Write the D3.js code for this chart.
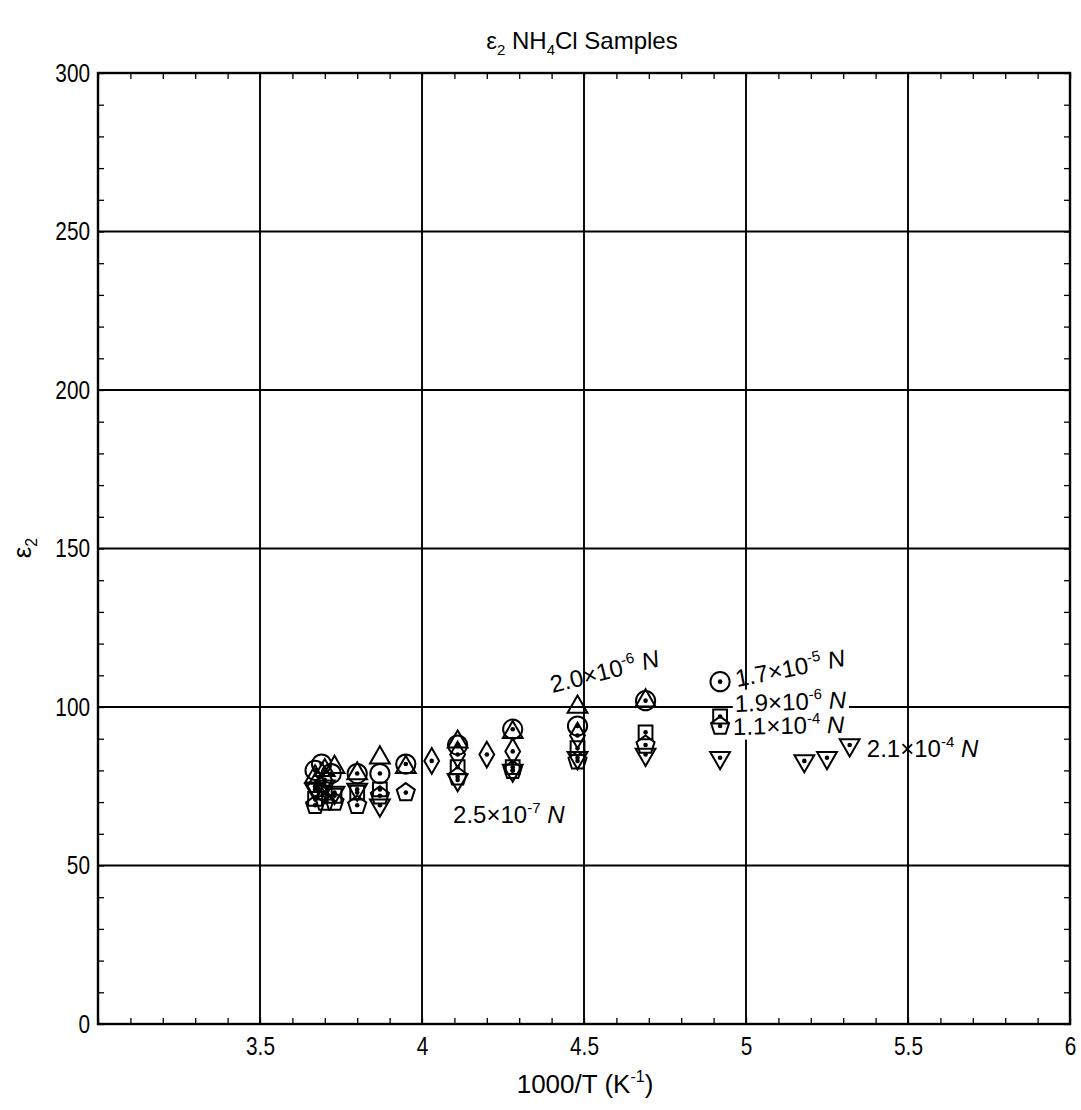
<html>
<head>
<script src="https://cdn.jsdelivr.net/npm/d3@7"></script>
<style>
    body { margin: 0; background: #fff; }
    text { font-family: "Liberation Sans", Arial, sans-serif; fill: #000; }
    .grid line { stroke: #000; stroke-width: 1.9; }
    .minor line { stroke: #000; stroke-width: 1.3; }
    .mark { fill: none; stroke: #000; stroke-width: 2; }
    .tk text { font-family: "Liberation Sans", Arial, sans-serif; font-size: 26px; }
</style>
</head>
<body>
<svg id="chart"></svg>
<script>
    var Width = 1081, Height = 1110;
    var Left = 98, Right = 1070, Top = 73, Bottom = 1024;

    // tick values
    var xTicks = [3.5, 4, 4.5, 5, 5.5, 6];
    var xTickLabels = ["3.5", "4", "4.5", "5", "5.5", "6"];
    var yTicks = [0, 50, 100, 150, 200, 250, 300];
    var xGrid = [3.5, 4, 4.5, 5, 5.5];
    var yGrid = [50, 100, 150, 200, 250];

    // data, one pair of arrays per sample (x = 1000/T, y = eps2)
    var x20e6 = [3.67, 3.70, 3.73, 3.80, 3.87, 3.95, 4.11, 4.28, 4.48, 4.69];
    var y20e6 = [78, 80, 81, 79, 84, 81, 89, 92, 100, 102];

    var x17e5 = [3.67, 3.69, 3.72, 3.80, 3.87, 3.95, 4.11, 4.28, 4.48, 4.69, 4.92];
    var y17e5 = [80, 82, 79, 79, 79, 82, 88, 93, 94, 102, 108];

    var x19e6 = [3.67, 3.70, 3.73, 3.80, 3.87, 4.11, 4.28, 4.48, 4.69, 4.92];
    var y19e6 = [71, 73, 72, 73, 74, 81, 81, 87, 92, 97];

    var x11e4 = [3.67, 3.70, 3.73, 3.80, 3.87, 3.95, 4.11, 4.28, 4.48, 4.69, 4.92];
    var y11e4 = [69, 70, 70, 69, 72, 73, 78, 80, 83, 88, 94];

    var x21e4 = [3.67, 3.70, 3.73, 3.80, 3.87, 4.11, 4.28, 4.48, 4.69, 4.92, 5.18, 5.25, 5.32];
    var y21e4 = [74, 75, 73, 74, 69, 77, 80, 84, 85, 84, 83, 84, 88];

    var x25e7 = [3.67, 3.70, 4.03, 4.11, 4.20, 4.28, 4.48];
    var y25e7 = [75, 77, 83, 85, 85, 86, 91];

    var Series = [
        {xs: x20e6, ys: y20e6, shape: "triUp"},
        {xs: x17e5, ys: y17e5, shape: "circle"},
        {xs: x19e6, ys: y19e6, shape: "square"},
        {xs: x11e4, ys: y11e4, shape: "pentagon"},
        {xs: x21e4, ys: y21e4, shape: "triDown"},
        {xs: x25e7, ys: y25e7, shape: "diamond"}
    ];

    // labels: mantissa, exponent, baseline start in data coords, rotation
    var Labels = [
        {m: "2.0", e: "-6", x: 4.403, y: 104.4, rot: -14, mask: false},
        {m: "1.7", e: "-5", x: 4.972, y: 106.3, rot: -11, mask: false},
        {m: "1.9", e: "-6", x: 4.966, y: 98.4, rot: -2, mask: true},
        {m: "1.1", e: "-4", x: 4.960, y: 91.2, rot: -1, mask: true},
        {m: "2.1", e: "-4", x: 5.373, y: 84.2, rot: 0, mask: false},
        {m: "2.5", e: "-7", x: 4.096, y: 63.4, rot: 0, mask: false}
    ];

    var x = d3.scaleLinear().domain([3, 6]).range([Left, Right]);
    var y = d3.scaleLinear().domain([0, 300]).range([Bottom, Top]);

    var svg = d3.select("#chart").attr("width", Width).attr("height", Height);

    // grid
    svg.append("g").classed("grid", true)
        .selectAll("line").data(xGrid).enter().append("line")
            .attr("x1", function(d){ return x(d); }).attr("x2", function(d){ return x(d); })
            .attr("y1", Top).attr("y2", Bottom);
    svg.append("g").classed("grid", true)
        .selectAll("line").data(yGrid).enter().append("line")
            .attr("y1", function(d){ return y(d); }).attr("y2", function(d){ return y(d); })
            .attr("x1", Left).attr("x2", Right);

    // minor ticks, pointing inward on all four sides
    var xMinor = d3.range(31).map(function(i){ return 3 + i*0.1; });
    var yMinor = d3.range(31).map(function(i){ return i*10; });
    svg.append("g").classed("minor", true).attr("transform", "translate(0," + Bottom + ")")
        .call(d3.axisBottom(x).tickValues(xMinor).tickSize(-6).tickFormat(""))
        .select(".domain").remove();
    svg.append("g").classed("minor", true).attr("transform", "translate(0," + Top + ")")
        .call(d3.axisTop(x).tickValues(xMinor).tickSize(-6).tickFormat(""))
        .select(".domain").remove();
    svg.append("g").classed("minor", true).attr("transform", "translate(" + Left + ",0)")
        .call(d3.axisLeft(y).tickValues(yMinor).tickSize(-6).tickFormat(""))
        .select(".domain").remove();
    svg.append("g").classed("minor", true).attr("transform", "translate(" + Right + ",0)")
        .call(d3.axisRight(y).tickValues(yMinor).tickSize(-6).tickFormat(""))
        .select(".domain").remove();

    // frame
    svg.append("rect")
        .attr("x", Left).attr("y", Top)
        .attr("width", Right - Left).attr("height", Bottom - Top)
        .attr("fill", "none").attr("stroke", "#000").attr("stroke-width", 2.4);

    // tick labels, narrowed to look like the condensed face of the print
    var xAxis = svg.append("g").classed("tk", true).attr("transform", "translate(0," + Bottom + ")")
        .call(d3.axisBottom(x).tickValues(xTicks).tickSize(0).tickPadding(13)
            .tickFormat(function(d, i){ return xTickLabels[i]; }));
    xAxis.select(".domain").remove();
    xAxis.attr("font-size", null).attr("font-family", null);
    xAxis.selectAll("text").attr("transform", "scale(0.8,1)");

    var yAxis = svg.append("g").classed("tk", true).attr("transform", "translate(" + Left + ",0)")
        .call(d3.axisLeft(y).tickValues(yTicks).tickSize(0).tickPadding(10));
    yAxis.select(".domain").remove();
    yAxis.attr("font-size", null).attr("font-family", null);
    yAxis.selectAll("text").attr("transform", "scale(0.8,1)");

    // titles
    var title = svg.append("text").attr("x", 582).attr("y", 49)
        .attr("text-anchor", "middle").style("font-size", "24px");
    title.append("tspan").text("ε");
    title.append("tspan").attr("dy", 6).style("font-size", "15px").text("2");
    title.append("tspan").attr("dy", -6).text(" NH");
    title.append("tspan").attr("dy", 6).style("font-size", "15px").text("4");
    title.append("tspan").attr("dy", -6).text("Cl Samples");

    var xTitle = svg.append("text").attr("x", 585).attr("y", 1093)
        .attr("text-anchor", "middle").style("font-size", "26px");
    xTitle.append("tspan").text("1000/T (K");
    xTitle.append("tspan").attr("dy", -11).style("font-size", "16px").text("-1");
    xTitle.append("tspan").attr("dy", 11).text(")");

    var yTitle = svg.append("text")
        .attr("transform", "translate(31,548) rotate(-90)")
        .attr("text-anchor", "middle").style("font-size", "26px");
    yTitle.append("tspan").text("ε");
    yTitle.append("tspan").attr("dy", 6).style("font-size", "16px").text("2");

    // sample label masks go under the markers
    var labMask = svg.append("g");

    // markers
    function pentagonPath(r)
    {
        var pts = d3.range(5).map(function(i){
            var a = -Math.PI/2 + i*2*Math.PI/5;
            return [r*Math.cos(a), r*Math.sin(a)];
        });
        return "M" + pts.join("L") + "Z";
    }

    function shapePath(s)
    {
        if (s == "circle") return d3.symbol().type(d3.symbolCircle).size(290)();
        if (s == "square") return d3.symbol().type(d3.symbolSquare).size(190)();
        if (s == "diamond") return d3.symbol().type(d3.symbolDiamond).size(190)();
        if (s == "pentagon") return pentagonPath(9.5);
        return d3.symbol().type(d3.symbolTriangle).size(170)();
    }

    var pts = [];
    Series.forEach(function(s){
        s.xs.forEach(function(v, i){
            pts.push({x: v, y: s.ys[i], shape: s.shape});
        });
    });

    var marks = svg.append("g").selectAll("g.pt")
        .data(pts).enter().append("g").classed("pt", true)
        .attr("transform", function(d){ return "translate(" + x(d.x) + "," + y(d.y) + ")"; });

    marks.append("path").classed("mark", true)
        .attr("d", function(d){ return shapePath(d.shape); })
        .attr("transform", function(d){ return d.shape == "triDown" ? "rotate(180)" : null; });

    marks.filter(function(d){ return d.shape != "triUp"; })
        .append("circle").attr("r", 2.3).attr("fill", "#000");

    var lab = svg.append("g").selectAll("g.lab")
        .data(Labels).enter().append("g").classed("lab", true)
        .attr("transform", function(d){
            return "translate(" + x(d.x) + "," + y(d.y) + ") rotate(" + d.rot + ")";
        });

    var lt = lab.append("text").style("font-size", "24px");
    lt.append("tspan").text(function(d){ return d.m + "×10"; });
    lt.append("tspan").attr("dy", -10).style("font-size", "15px").text(function(d){ return d.e; });
    lt.append("tspan").attr("dy", 10).text(" ");
    lt.append("tspan").style("font-style", "italic").text("N");

    // white box behind the labels that cut the 100 grid line
    lab.each(function(d){
        if (!d.mask) return;
        var b = this.querySelector("text").getBBox();
        labMask.append("rect")
            .attr("transform", d3.select(this).attr("transform"))
            .attr("x", b.x - 2).attr("y", b.y + 2)
            .attr("width", b.width + 4).attr("height", b.height - 2)
            .attr("fill", "#fff");
    });
</script>
</body>
</html>
